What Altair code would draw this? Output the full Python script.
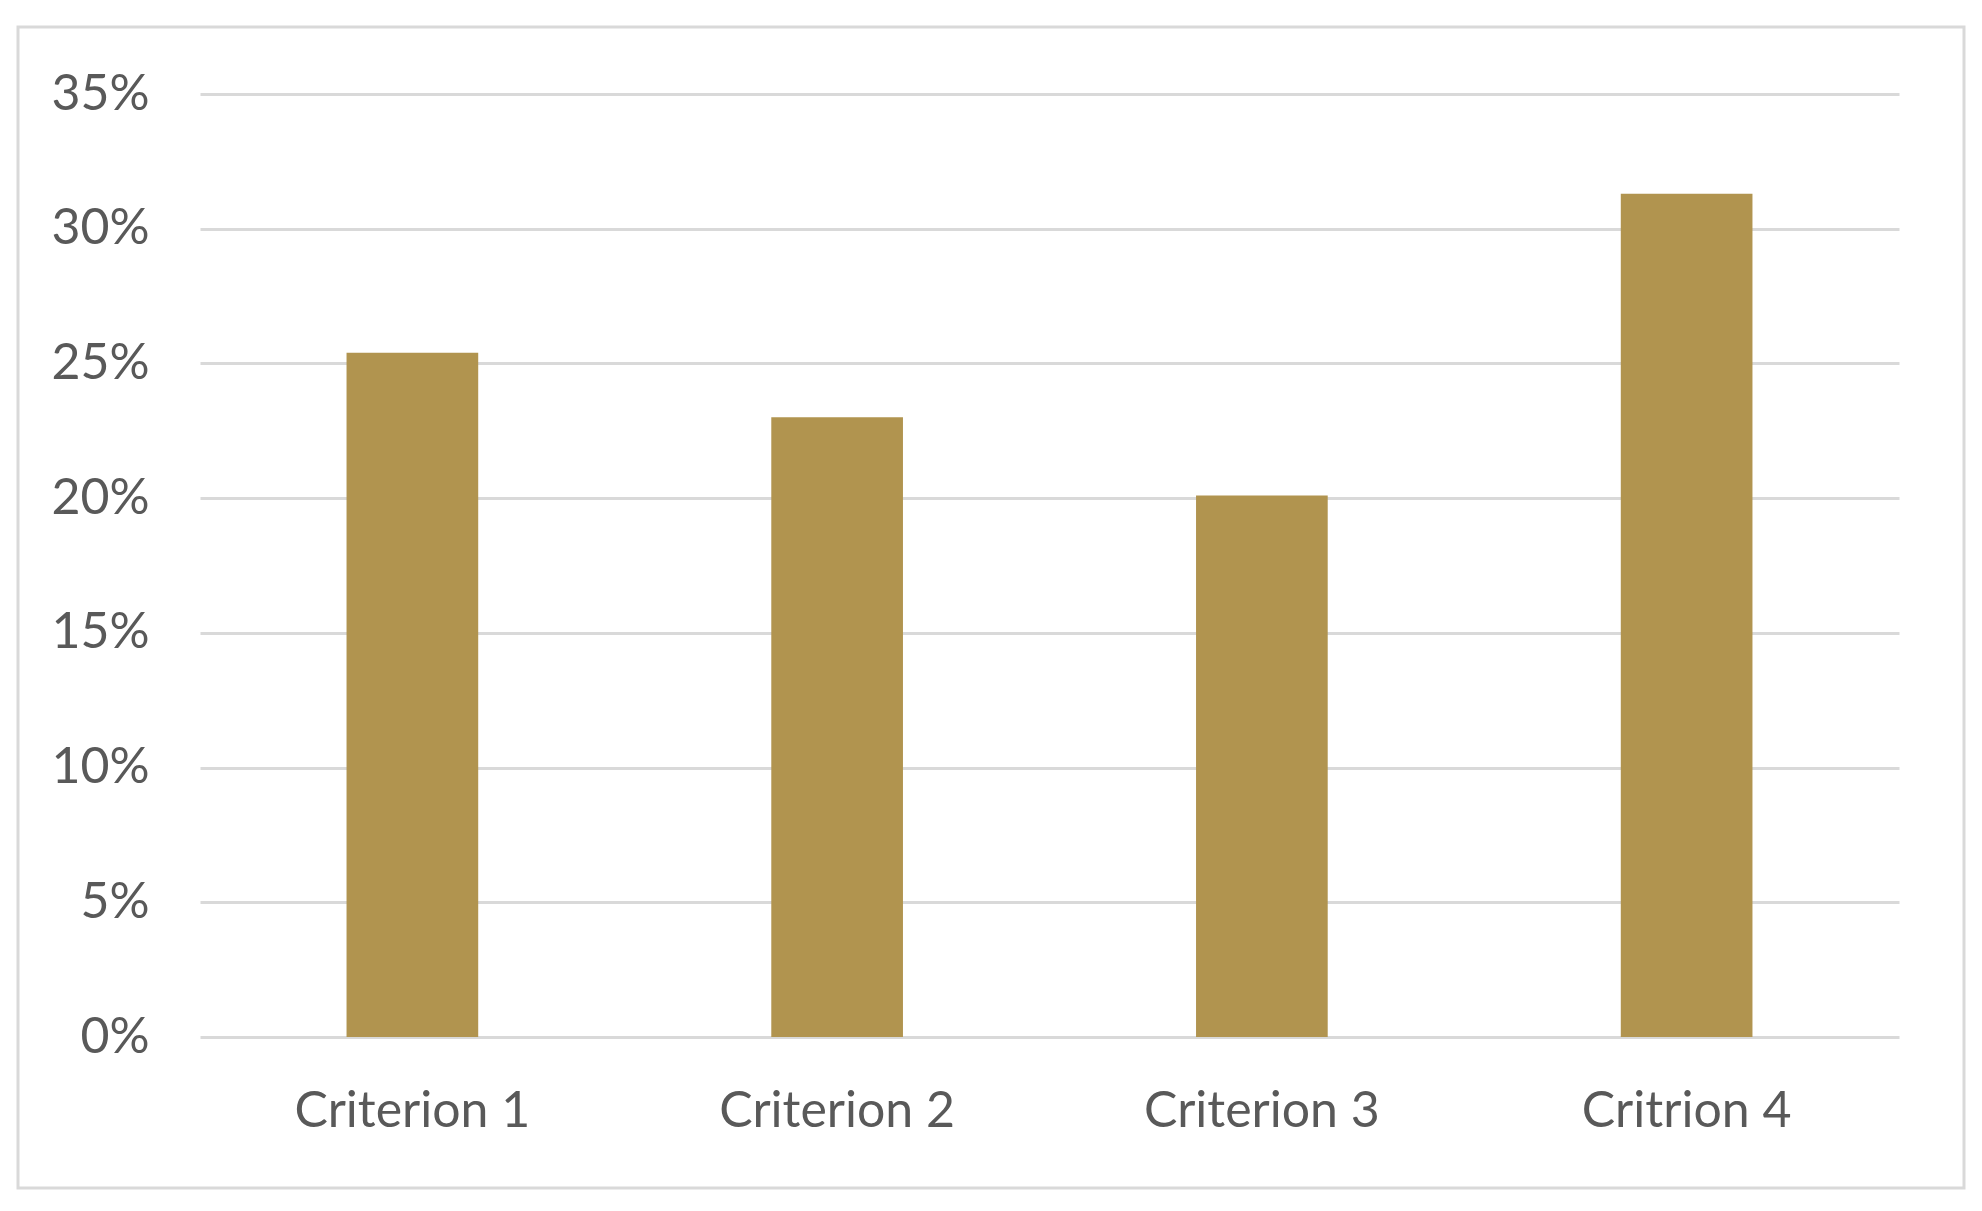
import altair as alt
import pandas as pd

categories = ["Criterion 1", "Criterion 2", "Criterion 3", "Critrion 4"]
values = [0.254, 0.230, 0.201, 0.313]
y_ticks = [0, 0.05, 0.10, 0.15, 0.20, 0.25, 0.30, 0.35]

df = pd.DataFrame({"category": categories, "value": values})

FONT = "Lato"
TEXT = "#595959"
GRID = "#d9d9d9"
BAR = "#B1944F"

W, H = 1699, 943

bars = alt.Chart(df).mark_bar(color=BAR).encode(
    x=alt.X("category:N", sort=categories, title=None,
            scale=alt.Scale(paddingInner=0.69, paddingOuter=0.345),
            axis=alt.Axis(labelAngle=0, labelFont=FONT, labelFontSize=50,
                          labelColor=TEXT, labelPadding=49, labelLimit=0,
                          ticks=False, domain=False, grid=False)),
    y=alt.Y("value:Q", title=None,
            scale=alt.Scale(domain=[0, 0.35], nice=False),
            axis=alt.Axis(values=y_ticks, format=".0%", labelFont=FONT,
                          labelFontSize=50, labelColor=TEXT, labelPadding=51,
                          ticks=False, domain=False, grid=True,
                          gridColor=GRID, gridWidth=3)),
)

frame = alt.Chart(pd.DataFrame({"a": [0]})).mark_rect(
    fill=None, stroke=GRID, strokeWidth=3
).encode(
    x=alt.value(-182), x2=alt.value(1764),
    y=alt.value(-67), y2=alt.value(1094),
)

chart = alt.layer(frame, bars).properties(
    width=W, height=H,
    autosize=alt.AutoSizeParams(type="none"),
    padding={"left": 192, "top": 86, "right": 75, "bottom": 166},
    background="white",
).configure_view(strokeWidth=0)

chart.save("out.html", embed_options={"renderer": "svg", "actions": False})
